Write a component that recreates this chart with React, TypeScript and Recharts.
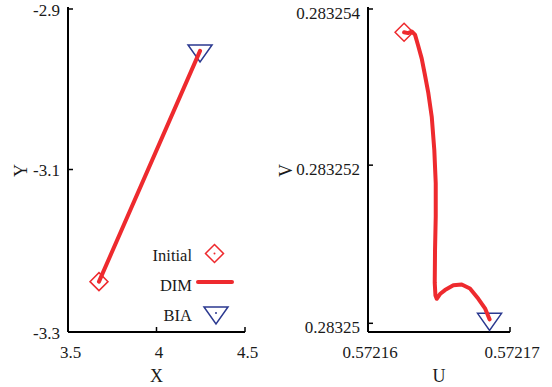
import { ScatterChart, Scatter, XAxis, YAxis, Legend } from "recharts";

const RED = "#ee2a2e";
const NAVY = "#2b3990";
const FONT = "'Liberation Serif', 'Times New Roman', serif";

// left panel (X / Y)
const xTicks = [3.5, 4, 4.5];
const xTickLabels = ["3.5", "4", "4.5"];
const yTicks = [-3.3, -3.1, -2.9];
const yTickLabels = ["-3.3", "-3.1", "-2.9"];
const initialXY = [{ x: 3.675, y: -3.238 }];
const biaXY = [{ x: 4.246, y: -2.954 }];
const dimX = [3.675, 4.246];
const dimY = [-3.238, -2.954];

// right panel (U / V)
const uTicks = [0.57216, 0.57217];
const uTickLabels = ["0.57216", "0.57217"];
const vTicks = [0.28325, 0.283252, 0.283254];
const vTickLabels = ["0.28325", "0.283252", "0.283254"];
const initialUV = [{ u: 0.57216254, v: 0.28325368 }];
const biaUV = [{ u: 0.57216856, v: 0.28325005 }];
const dimU = [
  0.57216254, 0.57216282, 0.57216308, 0.57216331, 0.57216352, 0.57216378,
  0.57216401, 0.57216425, 0.57216449, 0.57216467, 0.57216477, 0.57216477,
  0.57216472, 0.5721647, 0.57216475, 0.57216484, 0.57216507, 0.57216542,
  0.57216601, 0.5721666, 0.57216718, 0.57216777, 0.57216824, 0.57216856,
];
const dimV = [
  0.28325368, 0.28325367, 0.28325369, 0.28325365, 0.28325352, 0.28325335,
  0.28325314, 0.28325291, 0.28325261, 0.28325219, 0.28325177, 0.28325135,
  0.28325092, 0.28325051, 0.28325035, 0.28325031, 0.28325037, 0.28325042,
  0.28325048, 0.28325049, 0.28325044, 0.28325031, 0.28325019, 0.28325005,
];

const legendLabels = ["Initial", "DIM", "BIA"];

const dimXY = dimX.map((x, i) => ({ x, y: dimY[i] }));
const dimUV = dimU.map((u, i) => ({ u, v: dimV[i] }));

const tickText = { fontFamily: FONT, fontSize: 17, fill: "#1a1a1a" };
const titleText = { fontFamily: FONT, fontSize: 18, fill: "#1a1a1a" };
const frame = { stroke: "#000", strokeWidth: 2 };

const bottomTick = (labels: string[], dx: number) => (p: any) => (
  <g>
    <line x1={p.x} x2={p.x} y1={p.y} y2={p.y - 5} stroke="#000" strokeWidth={1.5} />
    <text x={p.x + dx} y={p.y + 20} dy="0.35em" textAnchor="middle" style={tickText}>
      {labels[p.index]}
    </text>
  </g>
);

const leftTick = (labels: string[], dy: number) => (p: any) => (
  <g>
    <line x1={p.x} x2={p.x + 5} y1={p.y} y2={p.y} stroke="#000" strokeWidth={1.5} />
    <text x={p.x - 8} y={p.y + dy} dy="0.35em" textAnchor="end" style={tickText}>
      {labels[p.index]}
    </text>
  </g>
);

const topTick = (p: any) => (
  <line x1={p.x} x2={p.x} y1={p.y} y2={p.y + 5} stroke="#000" strokeWidth={1.5} />
);

const rightTick = (p: any) => (
  <line x1={p.x} x2={p.x - 5} y1={p.y} y2={p.y} stroke="#000" strokeWidth={1.5} />
);

const xTitle = (text: string) => (p: any) => {
  const vb = p.viewBox;
  const x = vb.x + vb.width / 2;
  const y = vb.y + 44;
  return (
    <text x={x} y={y} dy="0.35em" textAnchor="middle" style={titleText}>
      {text}
    </text>
  );
};

const yTitle = (text: string, dx: number) => (p: any) => {
  const vb = p.viewBox;
  const x = vb.x + dx;
  const y = vb.y + vb.height / 2 + 1;
  return (
    <text x={x} y={y} dy="0.35em" textAnchor="middle" transform={`rotate(-90 ${x} ${y})`} style={titleText}>
      {text}
    </text>
  );
};

const Diamond = (p: any) => (
  <g>
    <polygon
      points={`${p.cx},${p.cy - 9} ${p.cx + 9},${p.cy} ${p.cx},${p.cy + 9} ${p.cx - 9},${p.cy}`}
      fill="none"
      stroke={RED}
      strokeWidth={1.5}
    />
    <circle cx={p.cx} cy={p.cy} r={1} fill={RED} />
  </g>
);

const Triangle = (p: any) => (
  <g>
    <polygon
      points={`${p.cx - 12},${p.cy - 6} ${p.cx + 12},${p.cy - 6} ${p.cx},${p.cy + 11}`}
      fill="none"
      stroke={NAVY}
      strokeWidth={1.5}
    />
    <circle cx={p.cx} cy={p.cy} r={1} fill={NAVY} />
  </g>
);

const noShape = () => <g />;

const legendIcon = (i: number) => {
  if (i === 0) return <Diamond cx={22.5} cy={12.5} />;
  if (i === 1) return <line x1={6} x2={40} y1={11} y2={11} stroke={RED} strokeWidth={4} strokeLinecap="round" />;
  return <Triangle cx={24} cy={12} />;
};

const legendContent = () => (
  <div style={{ fontFamily: FONT, fontSize: 16.5, color: "#1a1a1a" }}>
    {legendLabels.map((lab, i) => (
      <div key={lab} style={{ display: "flex", alignItems: "center", height: 30 }}>
        <span style={{ width: 52, textAlign: "right", lineHeight: "30px" }}>{lab}</span>
        <svg width={46} height={30} style={{ display: "block" }}>
          {legendIcon(i)}
        </svg>
      </div>
    ))}
  </div>
);

export default function App() {
  return (
    <div style={{ position: "absolute", left: 0, top: 0, width: 552, height: 387, background: "#fff", display: "flex" }}>
      <ScatterChart width={276} height={387} margin={{ top: 7, right: 31, bottom: 0, left: 8 }}>
        <XAxis
          type="number"
          dataKey="x"
          domain={[3.5, 4.5]}
          ticks={xTicks}
          allowDataOverflow
          height={55}
          tickSize={0}
          tickMargin={0}
          tick={bottomTick(xTickLabels, 2.5)}
          axisLine={frame}
          label={xTitle("X")}
        />
        <XAxis
          xAxisId="top"
          orientation="top"
          type="number"
          domain={[3.5, 4.5]}
          ticks={xTicks}
          allowDataOverflow
          height={0}
          tickSize={0}
          tickMargin={0}
          tick={topTick}
          axisLine={frame}
        />
        <YAxis
          type="number"
          dataKey="y"
          domain={[-3.3, -2.9]}
          ticks={yTicks}
          allowDataOverflow
          width={60}
          tickSize={0}
          tickMargin={0}
          tick={leftTick(yTickLabels, 1)}
          axisLine={frame}
          label={yTitle("Y", 13)}
        />
        <YAxis
          yAxisId="right"
          orientation="right"
          type="number"
          domain={[-3.3, -2.9]}
          ticks={yTicks}
          allowDataOverflow
          width={0}
          tickSize={0}
          tickMargin={0}
          tick={rightTick}
          axisLine={frame}
        />
        <Scatter data={initialXY} shape={Diamond} isAnimationActive={false} />
        <Scatter data={biaXY} shape={Triangle} isAnimationActive={false} />
        <Scatter
          data={dimXY}
          shape={noShape}
          line={{ stroke: RED, strokeWidth: 4, strokeLinecap: "round", strokeLinejoin: "round" }}
          isAnimationActive={false}
        />
        <Legend
          layout="vertical"
          align="center"
          verticalAlign="middle"
          content={legendContent}
          wrapperStyle={{ position: "absolute", left: 140, top: 241, bottom: "auto", width: 100, height: 90 }}
        />
      </ScatterChart>
      <ScatterChart width={276} height={387} margin={{ top: 7, right: 42, bottom: 0, left: 0 }}>
        <XAxis
          type="number"
          dataKey="u"
          domain={[0.57216, 0.57217]}
          ticks={uTicks}
          allowDataOverflow
          height={55}
          tickSize={0}
          tickMargin={0}
          tick={bottomTick(uTickLabels, 2)}
          axisLine={frame}
          label={xTitle("U")}
        />
        <XAxis
          xAxisId="top"
          orientation="top"
          type="number"
          domain={[0.57216, 0.57217]}
          ticks={uTicks}
          allowDataOverflow
          height={0}
          tickSize={0}
          tickMargin={0}
          tick={topTick}
          axisLine={frame}
        />
        <YAxis
          type="number"
          dataKey="v"
          domain={[0.28324989, 0.283254]}
          ticks={vTicks}
          allowDataOverflow
          width={92}
          tickSize={0}
          tickMargin={0}
          tick={leftTick(vTickLabels, 4)}
          axisLine={frame}
          label={yTitle("V", 10)}
        />
        <YAxis
          yAxisId="right"
          orientation="right"
          type="number"
          domain={[0.28324989, 0.283254]}
          ticks={vTicks}
          allowDataOverflow
          width={0}
          tickSize={0}
          tickMargin={0}
          tick={rightTick}
          axisLine={frame}
        />
        <Scatter data={initialUV} shape={Diamond} isAnimationActive={false} />
        <Scatter data={biaUV} shape={Triangle} isAnimationActive={false} />
        <Scatter
          data={dimUV}
          shape={noShape}
          line={{ stroke: RED, strokeWidth: 4, strokeLinecap: "round", strokeLinejoin: "round" }}
          isAnimationActive={false}
        />
      </ScatterChart>
    </div>
  );
}
